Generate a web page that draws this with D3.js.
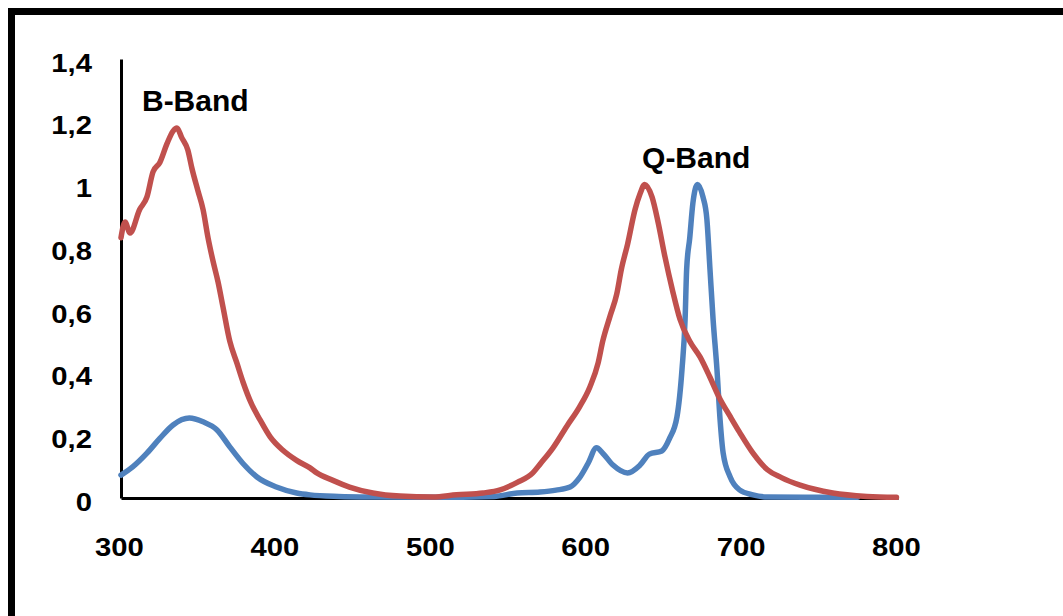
<!DOCTYPE html>
<html>
<head>
<meta charset="utf-8">
<script src="https://cdn.jsdelivr.net/npm/d3@7"></script>
<style>
  body { margin: 0; background: #fff; }
  text { font-family: "Liberation Sans", Arial, sans-serif; font-weight: bold; fill: #000; }
</style>
</head>
<body>
<div id="chart"></div>
<script>
//wavelength (nm) and absorbance
let redWl = [300, 302.6, 305.8, 312, 316.7, 320.6, 325, 329.6, 333.5, 336, 339, 343, 345.7, 349.5, 352.8, 356, 359, 362.4, 365.6, 370, 374.6, 378.5, 384, 389.4, 396, 404, 413, 421.6, 426, 436, 447, 462, 479.5, 500.8, 516, 533, 544, 555, 565, 570, 578, 587, 595, 601.8, 607, 610, 614.7, 619, 622, 626, 630.8, 634, 637, 641.7, 645.6, 650, 655, 659.7, 666, 672.6, 679, 685, 692, 698, 706.7, 716, 725, 737, 758, 780, 799];
let redAbs = [0.83, 0.88, 0.845, 0.92, 0.96, 1.04, 1.07, 1.13, 1.17, 1.18, 1.15, 1.11, 1.05, 0.98, 0.92, 0.83, 0.76, 0.69, 0.61, 0.50, 0.43, 0.37, 0.30, 0.25, 0.195, 0.153, 0.12, 0.096, 0.08, 0.057, 0.035, 0.016, 0.006, 0.003, 0.01, 0.016, 0.026, 0.05, 0.08, 0.11, 0.16, 0.23, 0.29, 0.355, 0.43, 0.50, 0.58, 0.65, 0.73, 0.81, 0.92, 0.97, 1.0, 0.96, 0.88, 0.77, 0.66, 0.57, 0.50, 0.45, 0.385, 0.32, 0.26, 0.21, 0.143, 0.09, 0.065, 0.041, 0.016, 0.005, 0.002];

let blueWl = [300, 307.7, 316.7, 325, 333.5, 344, 352.8, 361.8, 370, 378.5, 387.5, 400, 413, 421.6, 440, 462, 500, 540, 555, 569.6, 580, 589, 595, 600.5, 606, 610, 616.6, 626, 634, 640, 648, 653, 657.8, 661, 663, 664, 666, 668, 671, 674.5, 677, 679, 681, 683.5, 685.5, 687.5, 692, 698, 706.7, 716, 740, 774];
let blueAbs = [0.073, 0.10, 0.143, 0.19, 0.233, 0.255, 0.243, 0.217, 0.163, 0.11, 0.067, 0.035, 0.016, 0.01, 0.005, 0.003, 0.002, 0.005, 0.016, 0.019, 0.025, 0.035, 0.064, 0.11, 0.16, 0.143, 0.105, 0.08, 0.105, 0.14, 0.15, 0.19, 0.26, 0.41, 0.57, 0.73, 0.83, 0.94, 1.0, 0.96, 0.89, 0.73, 0.57, 0.41, 0.25, 0.143, 0.067, 0.026, 0.01, 0.003, 0.002, 0.002];

let xTicks = [300, 400, 500, 600, 700, 800];
let yTicks = [0, 0.2, 0.4, 0.6, 0.8, 1, 1.2, 1.4];

let bandNames = ["B-Band", "Q-Band"];
let bandWl = [313.5, 635.3];
let bandAbs = [1.234, 1.052];

//Set graph size
let svgWidth = 1063;
let svgHeight = 616;

//scales
let x = d3.scaleLinear().domain([300, 800]).range([121, 898]);
let y = d3.scaleLinear().domain([0, 1.4]).range([498, 59]);

let svg = d3.select("#chart")
    .append("svg")
    .attr("width", svgWidth)
    .attr("height", svgHeight);

//thick frame round the picture
svg.append("rect")
    .attr("x", 11.5)
    .attr("y", 11.5)
    .attr("width", 1100)
    .attr("height", 700)
    .attr("fill", "none")
    .attr("stroke", "#000")
    .attr("stroke-width", 7);

let fmt = function(d) { return String(d).replace(".", ","); };

//y axis
let yAxisG = svg.append("g")
    .attr("transform", "translate(" + x(300) + ",0)")
    .call(d3.axisLeft(y).tickValues(yTicks).tickSize(0).tickSizeOuter(0).tickPadding(0).tickFormat(fmt));
yAxisG.select(".domain").attr("stroke-width", 3);
yAxisG.selectAll("text")
    .attr("x", 0)
    .attr("dy", "0.35em")
    .style("font-size", "25px")
    .attr("transform", "translate(-29,3.5) scale(1.17,1)");

//x axis
let xAxisG = svg.append("g")
    .attr("transform", "translate(0," + y(0) + ")")
    .call(d3.axisBottom(x).tickValues(xTicks).tickSize(0).tickSizeOuter(0).tickPadding(0).tickFormat(d3.format("d")));
xAxisG.select(".domain").attr("stroke-width", 3);
xAxisG.selectAll("text")
    .attr("y", 0)
    .attr("dy", "0.35em")
    .style("font-size", "25px")
    .attr("transform", "translate(-2,49.5) scale(1.17,1)");

yAxisG.attr("font-family", null);
xAxisG.attr("font-family", null);

//lines
let line = d3.line()
    .curve(d3.curveMonotoneX)
    .x(function(d) { return x(d[0]); })
    .y(function(d) { return y(d[1]); });

svg.append("path")
    .attr("d", line(d3.zip(blueWl, blueAbs)))
    .attr("fill", "none")
    .attr("stroke", "#4F81BD")
    .attr("stroke-width", 5.5)
    .attr("stroke-linejoin", "round")
    .attr("stroke-linecap", "round");

svg.append("path")
    .attr("d", line(d3.zip(redWl, redAbs)))
    .attr("fill", "none")
    .attr("stroke", "#C0504D")
    .attr("stroke-width", 5.5)
    .attr("stroke-linejoin", "round")
    .attr("stroke-linecap", "round");

//band annotations
svg.selectAll("text.band")
    .data(bandNames)
    .enter()
    .append("text")
    .attr("class", "band")
    .attr("x", function(d, i) { return x(bandWl[i]); })
    .attr("y", function(d, i) { return y(bandAbs[i]); })
    .style("font-size", "30px")
    .text(function(d) { return d; });
</script>
</body>
</html>
